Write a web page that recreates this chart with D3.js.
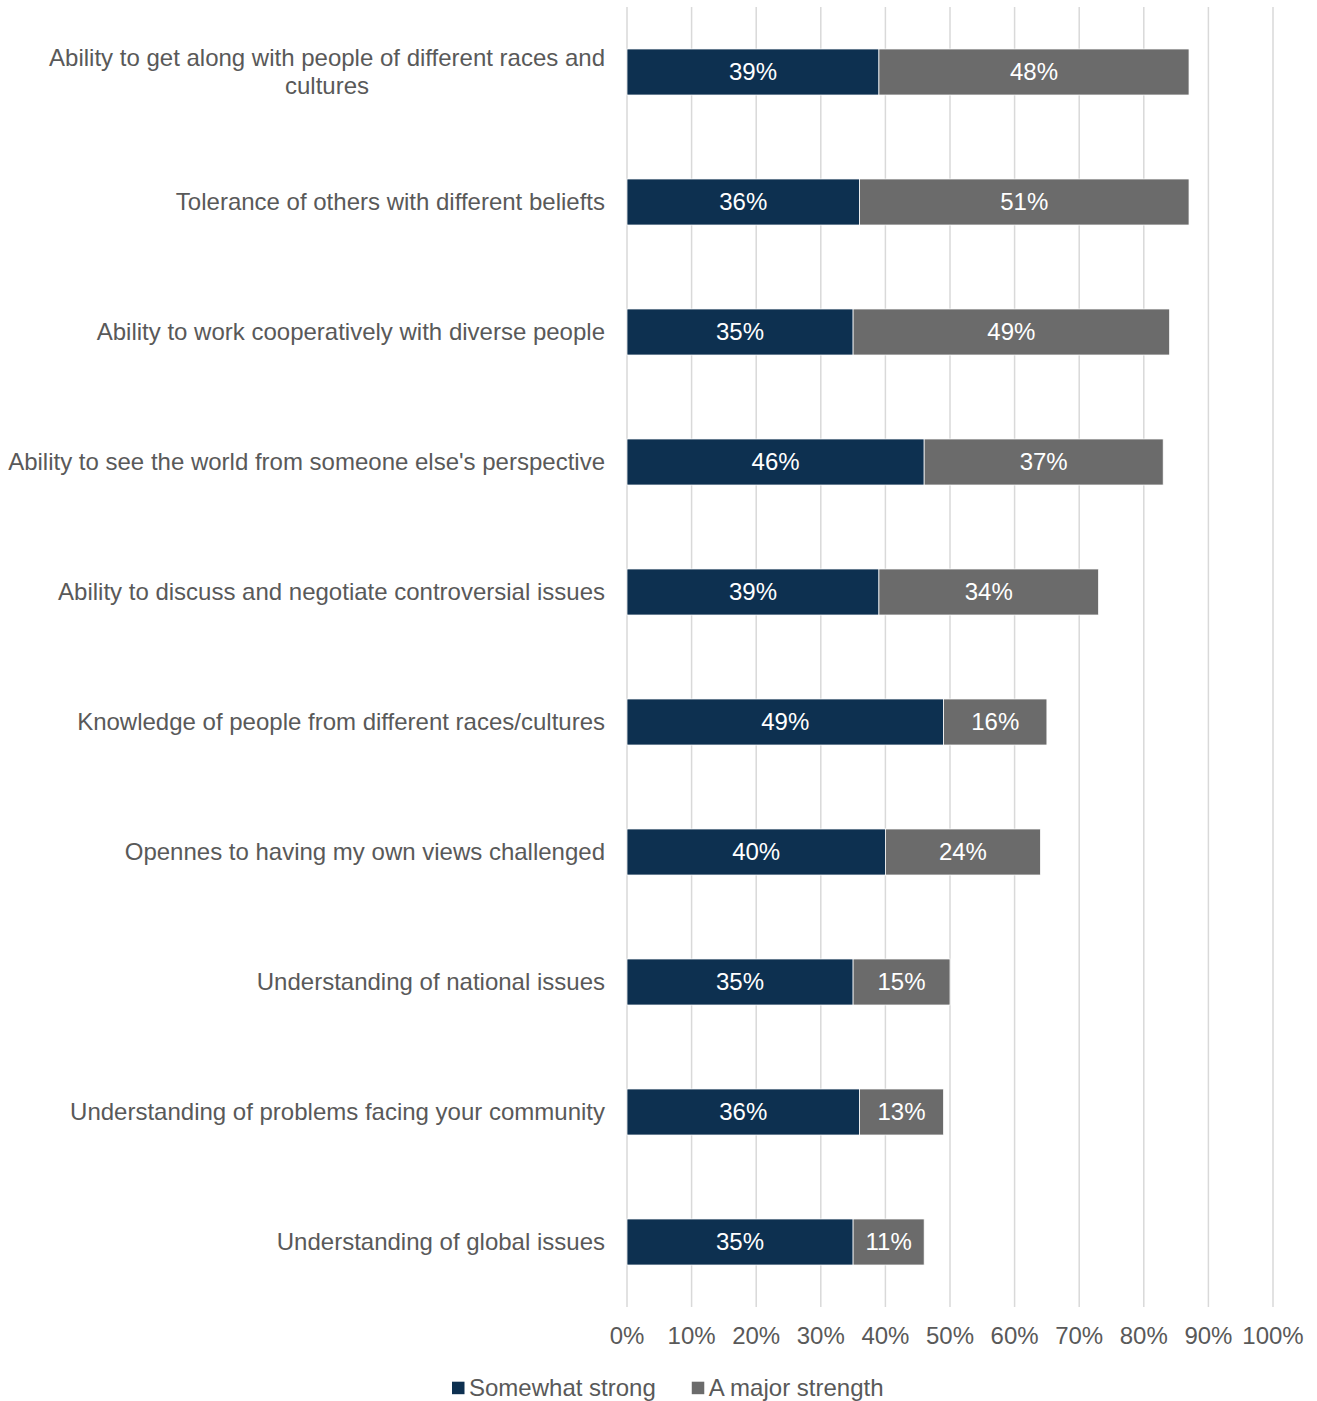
<!DOCTYPE html>
<html>
<head>
<meta charset="utf-8">
<script src="https://cdn.jsdelivr.net/npm/d3@7"></script>
<style>
  html, body { margin: 0; padding: 0; background: #fff; }
  svg { display: block; font-family: "Liberation Sans", Arial, sans-serif; }
</style>
</head>
<body>
<svg id="chart" width="1317" height="1401"></svg>
<script>
// Skills rated by respondents, top to bottom
const categories = [
  "Ability to get along with people of different races and cultures",
  "Tolerance of others with different beliefts",
  "Ability to work cooperatively with diverse people",
  "Ability to see the world from someone else's perspective",
  "Ability to discuss and negotiate controversial issues",
  "Knowledge of people from different races/cultures",
  "Opennes to having my own views challenged",
  "Understanding of national issues",
  "Understanding of problems facing your community",
  "Understanding of global issues"
];
const somewhatStrong = [39, 36, 35, 46, 39, 49, 40, 35, 36, 35];
const majorStrength  = [48, 51, 49, 37, 34, 16, 24, 15, 13, 11];
const seriesNames = ["Somewhat strong", "A major strength"];
const xTicks = [0, 10, 20, 30, 40, 50, 60, 70, 80, 90, 100];

const colors = ["#0D3050", "#6B6B6B"];
const textColor = "#595959";
const gridColor = "#D9D9D9";
const fontSize = 24;
const baseline = "0.32em";

const svg = d3.select("#chart");

const x = d3.scaleLinear().domain([0, 100]).range([627, 1273]);
const y = d3.scaleBand().domain(categories).range([7, 1307])
  .paddingInner(0.646).paddingOuter(0.323);

// Vertical gridlines
svg.append("g").selectAll("line").data(xTicks).join("line")
  .attr("x1", d => x(d)).attr("x2", d => x(d))
  .attr("y1", 7).attr("y2", 1307)
  .attr("stroke", gridColor).attr("stroke-width", 1.5);

// Stacked series
const rows = categories.map((c, i) => ({ cat: c, s0: somewhatStrong[i], s1: majorStrength[i] }));
const stack = d3.stack().keys(["s0", "s1"])(rows);

const layers = svg.append("g").selectAll("g").data(stack).join("g")
  .attr("fill", (d, i) => colors[i]);

layers.selectAll("rect").data(d => d).join("rect")
  .attr("x", d => x(d[0]))
  .attr("y", d => y(d.data.cat))
  .attr("width", d => x(d[1]) - x(d[0]))
  .attr("height", y.bandwidth())
  .attr("stroke", "#ffffff").attr("stroke-width", 0.75);

layers.selectAll("text").data(d => d).join("text")
  .attr("x", d => (x(d[0]) + x(d[1])) / 2)
  .attr("y", d => y(d.data.cat) + y.bandwidth() / 2)
  .attr("dy", baseline)
  .attr("text-anchor", "middle")
  .attr("fill", "#ffffff")
  .attr("font-size", fontSize)
  .text(d => (d[1] - d[0]) + "%");

// Category labels, wrapped and right-aligned to the axis
const labelRight = 605, wrapWidth = 612, lineHeight = 28;
const labelG = svg.append("g").attr("fill", textColor).attr("font-size", fontSize);
categories.forEach(cat => {
  const words = cat.split(" ");
  const probe = labelG.append("text").attr("visibility", "hidden");
  const lines = [];
  let cur = [];
  words.forEach(w => {
    const trial = cur.concat(w).join(" ");
    probe.text(trial);
    if (probe.node().getComputedTextLength() > wrapWidth && cur.length) {
      lines.push(cur.join(" "));
      cur = [w];
    } else cur.push(w);
  });
  lines.push(cur.join(" "));
  const widths = lines.map(l => { probe.text(l); return probe.node().getComputedTextLength(); });
  probe.remove();
  const blockW = d3.max(widths);
  const cy = y(cat) + y.bandwidth() / 2;
  const t = labelG.append("text")
    .attr("text-anchor", lines.length > 1 ? "middle" : "end");
  lines.forEach((l, i) => {
    t.append("tspan")
      .attr("x", lines.length > 1 ? labelRight - blockW / 2 : labelRight)
      .attr("y", cy + (i - (lines.length - 1) / 2) * lineHeight)
      .attr("dy", baseline)
      .text(l);
  });
});

// X axis tick labels
svg.append("g").selectAll("text").data(xTicks).join("text")
  .attr("x", d => x(d)).attr("y", 1336).attr("dy", baseline)
  .attr("text-anchor", "middle")
  .attr("fill", textColor).attr("font-size", fontSize)
  .text(d => d + "%");

// Legend
const legend = svg.append("g").attr("font-size", fontSize).attr("fill", textColor)
  .attr("transform", "translate(452,1388)");
let lx = 0;
seriesNames.forEach((name, i) => {
  const g = legend.append("g").attr("transform", `translate(${lx},0)`);
  g.append("rect").attr("x", 0).attr("y", -6.3).attr("width", 12.5).attr("height", 12.5)
    .attr("fill", colors[i]);
  const t = g.append("text").attr("x", 17).attr("dy", baseline).text(name);
  lx += 17 + t.node().getComputedTextLength() + 36;
});
</script>
</body>
</html>
